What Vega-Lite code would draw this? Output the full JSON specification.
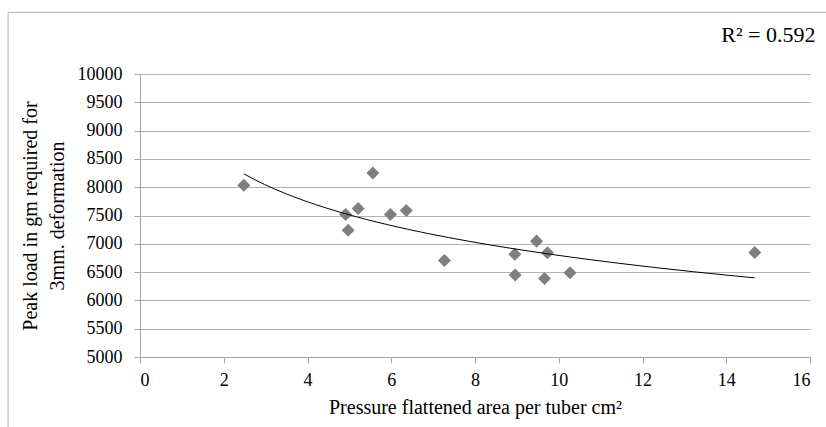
{
  "$schema": "https://vega.github.io/schema/vega-lite/v6.json",
  "width": 670,
  "height": 283,
  "autosize": {"type": "none"},
  "padding": {"left": 140, "top": 74, "right": 16, "bottom": 70},
  "background": "white",
  "data": {"values": [
    {"x": 2.48, "y": 8035},
    {"x": 5.56, "y": 8252},
    {"x": 4.91, "y": 7518},
    {"x": 4.97, "y": 7241},
    {"x": 5.21, "y": 7624},
    {"x": 5.98, "y": 7518},
    {"x": 6.36, "y": 7588},
    {"x": 7.27, "y": 6706},
    {"x": 8.95, "y": 6817},
    {"x": 8.96, "y": 6447},
    {"x": 9.47, "y": 7047},
    {"x": 9.73, "y": 6841},
    {"x": 9.66, "y": 6388},
    {"x": 10.27, "y": 6488},
    {"x": 14.68, "y": 6847}
  ]},
  "encoding": {
    "x": {"field": "x", "type": "quantitative",
      "scale": {"domain": [0, 16], "nice": false, "zero": false},
      "axis": {"title": "Pressure flattened area per tuber cm²", "values": [0,2,4,6,8,10,12,14,16], "grid": false, "format": "d",
        "domainColor": "#a6a6a6", "tickColor": "#a6a6a6", "tickSize": 6, "labelFont": "Liberation Serif", "labelFontSize": 18, "labelColor": "#000000", "labelPadding": 8,
        "titleFont": "Liberation Serif", "titleFontSize": 20, "titleFontWeight": "normal", "titleColor": "#000000", "titlePadding": 8}},
    "y": {"field": "y", "type": "quantitative",
      "scale": {"domain": [5000, 10000], "nice": false, "zero": false},
      "axis": {"title": ["Peak load in gm required for", "3mm. deformation"], "values": [5000,5500,6000,6500,7000,7500,8000,8500,9000,9500,10000], "format": "d",
        "grid": true, "gridColor": "#b3b3b3", "gridWidth": 1,
        "domainColor": "#a6a6a6", "tickColor": "#a6a6a6", "tickSize": 6, "labelFont": "Liberation Serif", "labelFontSize": 18, "labelColor": "#000000", "labelPadding": 12,
        "titleFont": "Liberation Serif", "titleFontSize": 20, "titleFontWeight": "normal", "titleColor": "#000000", "titlePadding": 10, "titleLineHeight": 27}}
  },
  "layer": [
    {"transform": [{"filter": {"field": "x", "equal": 14.68}}],
     "mark": {"type": "rect", "filled": false, "stroke": "#b3b3b3", "strokeWidth": 1, "fill": null, "clip": false},
     "encoding": {"x": {"datum": -3.15}, "x2": {"datum": 16.6}, "y": {"datum": 11089}, "y2": {"datum": 3300}}},
    {"transform": [{"filter": {"field": "x", "equal": 14.68}}],
     "mark": {"type": "text", "text": "R² = 0.592", "align": "right", "baseline": "alphabetic", "font": "Liberation Serif", "fontSize": 22, "fontWeight": "normal", "color": "#000000", "clip": false},
     "encoding": {"x": {"datum": 16.13}, "y": {"datum": 10560}}},
    {"mark": {"type": "point", "shape": "diamond", "filled": true, "size": 170, "color": "#7f7f7f", "opacity": 1}},
    {"transform": [{"regression": "y", "on": "x", "method": "log"}],
     "mark": {"type": "line", "color": "#000000", "strokeWidth": 1}}
  ],
  "config": {"view": {"stroke": null}, "font": "Liberation Serif"}
}
